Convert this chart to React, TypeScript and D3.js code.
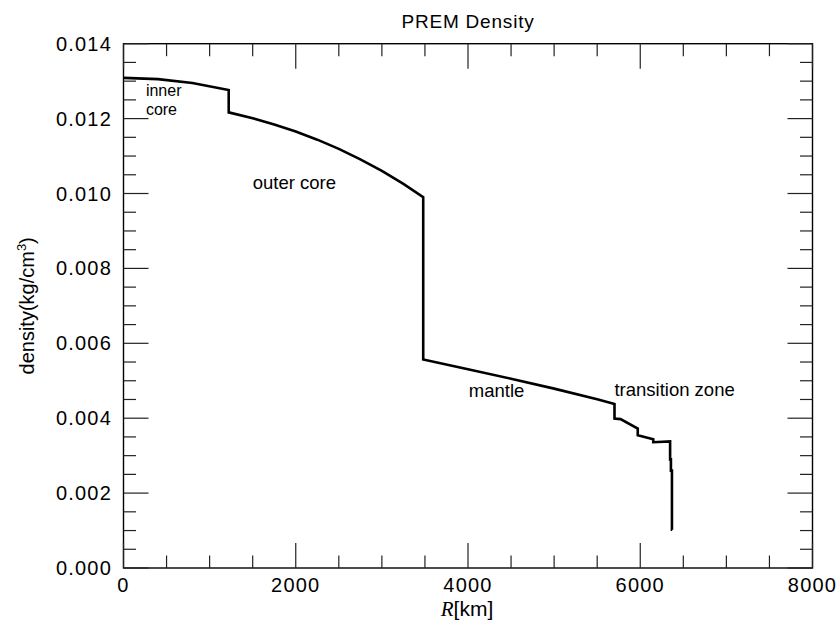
import React from "react";
import * as d3 from "d3";

// PREM density profile, radius (km) vs density (kg/cm^3)
const radius: number[] = [
  0, 400, 800, 1221.5,
  1221.5, 1500, 1750, 2000, 2250, 2500, 2750, 3000, 3250, 3480,
  3480, 4000, 4500, 5000, 5500, 5701,
  5701, 5771, 5971,
  5971, 6151,
  6151, 6346.6,
  6346.6, 6356,
  6356, 6368,
  6368, 6371,
];
const density: number[] = [
  0.0130885, 0.0130537, 0.0129491, 0.0127636,
  0.0121663, 0.0120099, 0.011845, 0.0116548, 0.0114374, 0.0111907, 0.0109128, 0.0106015, 0.0102551, 0.0099034,
  0.0055665, 0.0053073, 0.0050547, 0.0047899, 0.0045037, 0.0043807,
  0.0039921, 0.0039758, 0.0037237,
  0.0035433, 0.0034358,
  0.0033595, 0.0033808,
  0.0029, 0.0029,
  0.0026, 0.0026,
  0.00102, 0.00102,
];

const xTicks: number[] = [0, 2000, 4000, 6000, 8000];
const yTicks: number[] = [0, 0.002, 0.004, 0.006, 0.008, 0.01, 0.012, 0.014];
const xMinor: number[] = d3.range(0, 8001, 500);
const yMinor: number[] = d3.range(0, 0.01401, 0.0005);

const regionLabels: { text: string; r: number; d: number; size: number }[] = [
  { text: "inner", r: 260, d: 0.012592, size: 16 },
  { text: "core", r: 260, d: 0.012099, size: 16 },
  { text: "outer core", r: 1500, d: 0.01012, size: 18.5 },
  { text: "mantle", r: 4010, d: 0.00457, size: 18.5 },
  { text: "transition zone", r: 5700, d: 0.00458, size: 18.5 },
];

const L = 123.5, R = 812.5, T = 43.7, B = 568;
const FONT = "'Liberation Sans', Arial, Helvetica, sans-serif";

export default function App() {
  const x = d3.scaleLinear().domain([0, 8000]).range([L, R]);
  const y = d3.scaleLinear().domain([0, 0.014]).range([B, T]);
  const pts: [number, number][] = radius.map((r, i) => [r, density[i]]);
  const line = d3.line<[number, number]>().x((d) => x(d[0])).y((d) => y(d[1]));
  const majorLen = 25, minorLen = 12.5;

  return (
    <svg width={840} height={624} style={{ position: "absolute", left: 0, top: 0, background: "#fff" }}>
      <rect x={0} y={0} width={840} height={624} fill="#fff" />
      <text x={468} y={28} textAnchor="middle" fontFamily={FONT} fontSize={19} letterSpacing={0.8}>
        PREM Density
      </text>
      {/* frame */}
      <rect x={L} y={T} width={R - L} height={B - T} fill="none" stroke="#000" strokeWidth={1.4} />
      {/* x ticks */}
      {xMinor.map((v) => {
        const major = v % 2000 === 0;
        const len = major ? majorLen : minorLen;
        return (
          <g key={"x" + v} stroke="#222" strokeWidth={1.2}>
            <line x1={x(v)} x2={x(v)} y1={B} y2={B - len} />
            <line x1={x(v)} x2={x(v)} y1={T} y2={T + len} />
          </g>
        );
      })}
      {yMinor.map((v, i) => {
        const major = i % 4 === 0;
        const len = major ? majorLen : minorLen;
        return (
          <g key={"y" + i} stroke="#222" strokeWidth={1.2}>
            <line x1={L} x2={L + len} y1={y(v)} y2={y(v)} />
            <line x1={R} x2={R - len} y1={y(v)} y2={y(v)} />
          </g>
        );
      })}
      {xTicks.map((v) => (
        <text key={"xl" + v} x={x(v)} y={592} textAnchor="middle" fontFamily={FONT} fontSize={20} letterSpacing={1.2}>
          {String(v)}
        </text>
      ))}
      {yTicks.map((v) => (
        <text key={"yl" + v} x={112} y={y(v) + 7} textAnchor="end" fontFamily={FONT} fontSize={20} letterSpacing={1.2}>
          {v.toFixed(3)}
        </text>
      ))}
      <text x={467} y={616} textAnchor="middle" fontSize={21}>
        <tspan fontFamily="'Liberation Serif', 'Times New Roman', serif" fontStyle="italic">R</tspan>
        <tspan fontFamily={FONT}>[km]</tspan>
      </text>
      <text transform={`translate(34,${(T + B) / 2}) rotate(-90)`} textAnchor="middle" fontFamily={FONT} fontSize={20}>
        density(kg/cm<tspan dy={-8} fontSize={13}>3</tspan><tspan dy={8}>)</tspan>
      </text>
      {/* data */}
      <path d={line(pts) || ""} fill="none" stroke="#000" strokeWidth={2.6} strokeLinejoin="miter" />
      {regionLabels.map((lab, i) => (
        <text key={"rl" + i} x={x(lab.r)} y={y(lab.d)} fontFamily={FONT} fontSize={lab.size}>
          {lab.text}
        </text>
      ))}
    </svg>
  );
}
